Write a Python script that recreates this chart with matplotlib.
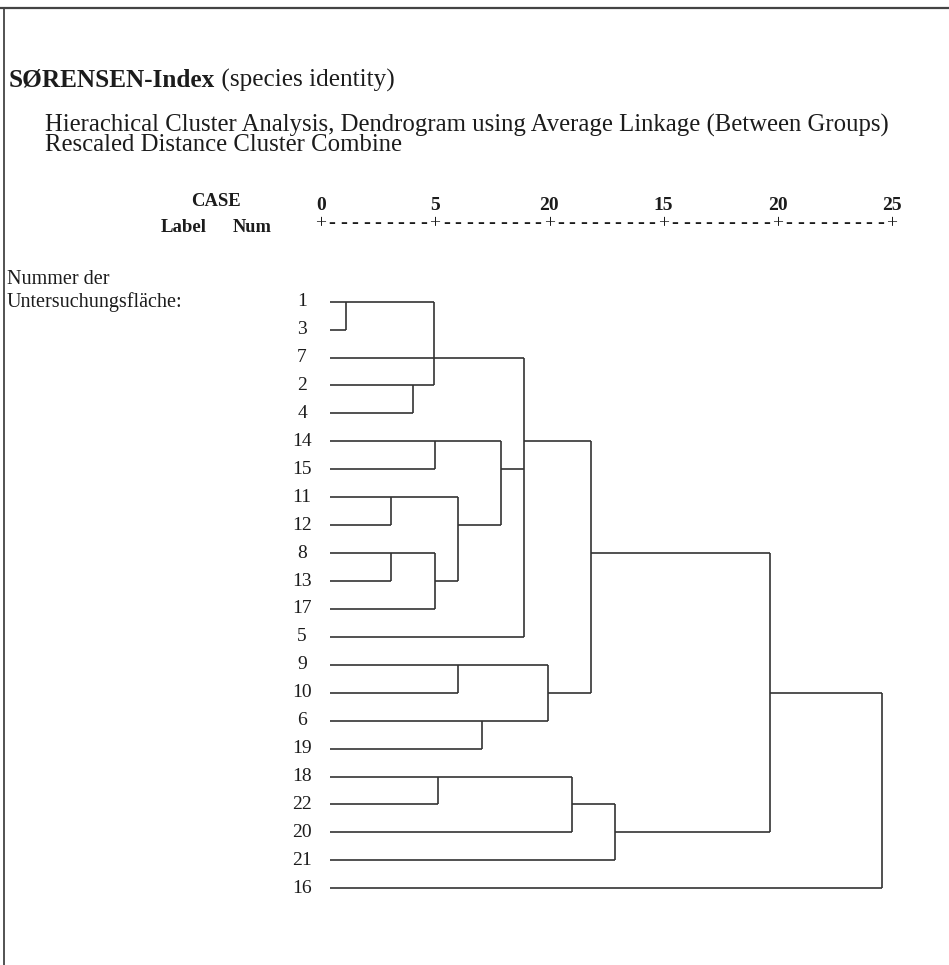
import matplotlib.pyplot as plt
from matplotlib.transforms import blended_transform_factory

W, H = 949, 965

# leaf order of the dendrogram, top to bottom
leaf_labels = ['1', '3', '7', '2', '4', '14', '15', '11', '12', '8', '13', '17',
               '5', '9', '10', '6', '19', '18', '22', '20', '21', '16']

# rescaled distance scale (labels as printed in the source, incl. the "20" typo)
tick_values = [0, 5, 10, 15, 20, 25]
tick_labels = ['0', '5', '20', '15', '20', '25']

# merges: members (leaf label or "m<index>"), rescaled distance, row the joined line continues on
merge_members = [
    ['1', '3'],
    ['11', '12'],
    ['8', '13'],
    ['2', '4'],
    ['m0', '7', 'm3'],
    ['14', '15'],
    ['m2', '17'],
    ['18', '22'],
    ['m1', 'm6'],
    ['9', '10'],
    ['6', '19'],
    ['m5', 'm8'],
    ['m4', 'm11', '5'],
    ['m9', 'm10'],
    ['m7', '20'],
    ['m12', 'm13'],
    ['m14', '21'],
    ['m15', 'm16'],
    ['m17', '16'],
]
merge_dist = [1.1, 3.08, 3.08, 4.04, 4.95, 5.0, 5.0, 5.13, 6.0, 6.0, 7.04,
              7.89, 8.88, 9.93, 10.98, 11.85, 12.86, 19.64, 24.56]
merge_row = ['1', '11', '8', '2', '7', '14', '13', '18', '12', '9', '6',
             '15', '14', '10', '22', '8', '20', '10', '16']

LEAF_START = 0.39
INK = '#1c1c1c'
LINE = '#333333'
SERIF = 'Liberation Serif'


def fx(px):
    return px / W


def fy(py):
    return 1 - py / H


fig = plt.figure(figsize=(W / 100, H / 100), dpi=100)
fig.patch.set_facecolor('white')
renderer = fig.canvas.get_renderer()

# dendrogram axes: x 0..25 maps onto the printed scale, y = leaf rows
x0, x25 = 320.7, 892.0
row0, row_step = 301.7, 27.93
n = len(leaf_labels)
ax = fig.add_axes([fx(x0), fy(row0 + (n - 1) * row_step), (x25 - x0) / W, (n - 1) * row_step / H])
ax.set_xlim(0, 25)
ax.set_ylim(n - 1, 0)
ax.axis('off')

# walk through the merges and draw the SPSS-style brackets
pos = {lab: (LEAF_START, i) for i, lab in enumerate(leaf_labels)}
for k, members in enumerate(merge_members):
    d = merge_dist[k]
    rows = []
    for m in members:
        h, r = pos[m]
        ax.hlines(r, h, d, color=LINE, lw=1.2, clip_on=False)
        rows.append(r)
    ax.vlines(d, min(rows), max(rows), color=LINE, lw=1.2, clip_on=False)
    pos['m%d' % k] = (d, leaf_labels.index(merge_row[k]))

# leaf labels, centred in a column left of the lines
leaf_tf = blended_transform_factory(fig.transFigure, ax.transData)
for i, lab in enumerate(leaf_labels):
    ax.text(fx(302), i, lab, transform=leaf_tf, ha='center', va='center',
            family=SERIF, fontsize=14, color=INK)

# printed distance scale: numbers and a +---------+ ruler
head_tf = blended_transform_factory(ax.transData, fig.transFigure)
for v, lab in zip(tick_values, tick_labels):
    ax.text(v, fy(205), lab, transform=head_tf, ha='center', va='center',
            family=SERIF, fontweight='bold', fontsize=14, color=INK)
    ax.text(v, fy(224), '+', transform=head_tf, ha='center', va='center',
            family=SERIF, fontsize=14, color=INK)
for a, b in zip(tick_values[:-1], tick_values[1:]):
    for j in range(1, 10):
        ax.text(a + (b - a) * j / 10, fy(223.5), '-', transform=head_tf, ha='center', va='center',
                family=SERIF, fontsize=15, color=INK)


def fit(t, width_px):
    w = t.get_window_extent(renderer).width
    t.set_fontsize(t.get_fontsize() * width_px / w)


# title: bold name followed by the plain note, fitted as a whole
tb = fig.text(fx(9), fy(80), 'SØRENSEN-Index', ha='left', va='center',
              family=SERIF, fontweight='bold', fontsize=16, color=INK)
tr = fig.text(fx(9), fy(80), ' (species identity)', ha='left', va='center',
              family=SERIF, fontsize=16, color=INK)
total = tb.get_window_extent(renderer).width + tr.get_window_extent(renderer).width
for t in (tb, tr):
    t.set_fontsize(16 * 386 / total)
tr.set_x(tb.get_window_extent(renderer).x1 / W)

# two-line subtitle, tight line spacing like the print
sub = fig.text(fx(45), fy(135),
               'Hierachical Cluster Analysis, Dendrogram using Average Linkage (Between Groups)\n'
               'Rescaled Distance Cluster Combine',
               ha='left', va='center', family=SERIF, fontsize=18, color=INK, linespacing=0.8)
fit(sub, 844)
one = fig.text(0, 0, 'Hierachical', family=SERIF, fontsize=sub.get_fontsize(), linespacing=0.8)
gap = sub.get_window_extent(renderer).height - one.get_window_extent(renderer).height
one.remove()
sub.set_linespacing(0.8 * 20 / gap)

t = fig.text(fx(216), fy(202), 'CASE', ha='center', va='center',
             family=SERIF, fontweight='bold', fontsize=14, color=INK)
fit(t, 50)
t = fig.text(fx(161), fy(227), 'Label', ha='left', va='center',
             family=SERIF, fontweight='bold', fontsize=14, color=INK)
fit(t, 46)
t = fig.text(fx(233), fy(227), 'Num', ha='left', va='center',
             family=SERIF, fontweight='bold', fontsize=14, color=INK)
fit(t, 39)

t = fig.text(fx(7), fy(279), 'Nummer der', ha='left', va='center',
             family=SERIF, fontsize=13, color=INK)
t2 = fig.text(fx(7), fy(302), 'Untersuchungsfläche:', ha='left', va='center',
              family=SERIF, fontsize=13, color=INK)
fit(t2, 175)
t.set_fontsize(t2.get_fontsize())

# scanned frame: top and left edge only
fig.add_artist(plt.Line2D([0, 1], [fy(8), fy(8)], transform=fig.transFigure, color='#444444', lw=1.6))
fig.add_artist(plt.Line2D([fx(3.5), fx(3.5)], [fy(8), 0], transform=fig.transFigure, color='#444444', lw=1.3))

fig.savefig('out.png', dpi=100, facecolor='white')
